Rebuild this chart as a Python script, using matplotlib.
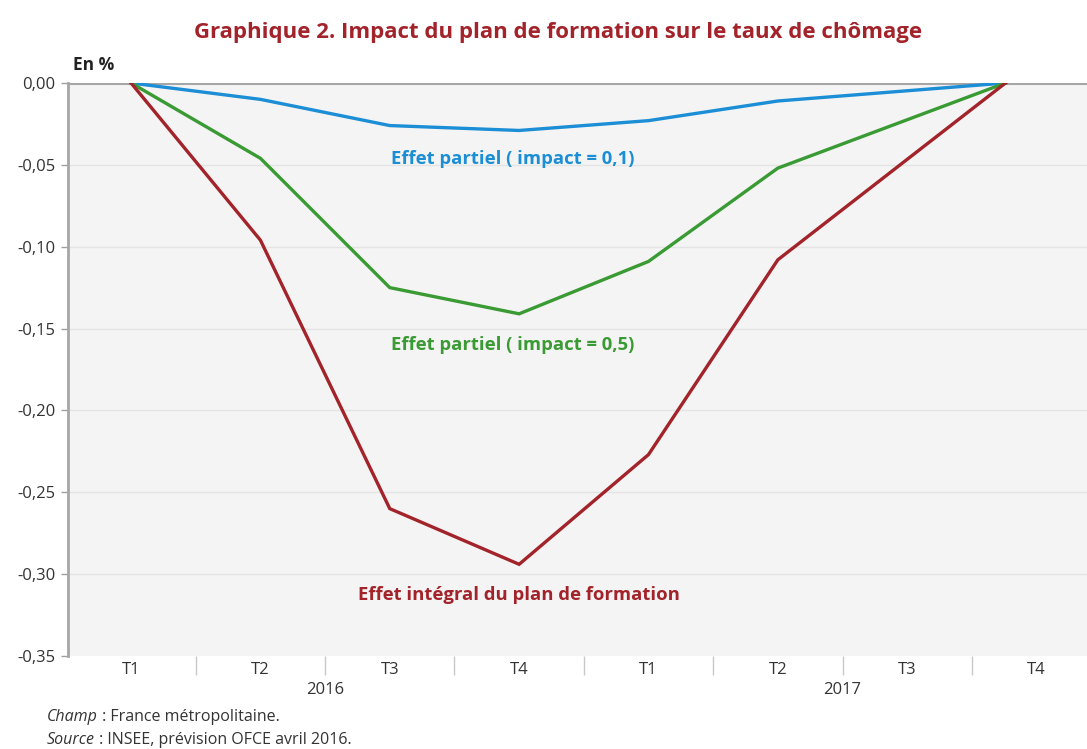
import matplotlib
matplotlib.use("Agg")
import matplotlib.pyplot as plt
import matplotlib.transforms as mtransforms

plt.rcParams["font.family"] = ["Open Sans", "DejaVu Sans"]
plt.rcParams["font.size"] = 12

# data
quarters = ["T1", "T2", "T3", "T4", "T1", "T2", "T3", "T4"]
years = ["2016", "2016", "2016", "2016", "2017", "2017", "2017", "2017"]
points_x = [0, 1, 2, 3, 4, 5, 6.76]
partiel_01 = [0.0, -0.010, -0.026, -0.029, -0.023, -0.011, 0.0]
partiel_05 = [0.0, -0.046, -0.125, -0.141, -0.109, -0.052, 0.0]
integral = [0.0, -0.096, -0.260, -0.294, -0.227, -0.108, 0.0]
yticks = [0.0, -0.05, -0.10, -0.15, -0.20, -0.25, -0.30, -0.35]

BLUE = "#1c8ed6"
GREEN = "#3a9a33"
RED = "#a3232a"
GREY_TXT = "#333333"

fig = plt.figure(figsize=(10.87, 7.49), dpi=100)
ax = fig.add_axes([0.0626, 0.1242, 0.9374, 0.765])
ax.set_facecolor("#f4f4f4")

ax.plot(points_x, partiel_01, color=BLUE, lw=2.4, solid_joinstyle="miter", zorder=3)
ax.plot(points_x, partiel_05, color=GREEN, lw=2.4, solid_joinstyle="miter", zorder=3)
ax.plot(points_x, integral, color=RED, lw=2.4, solid_joinstyle="miter", zorder=3)

ax.set_xlim(-0.487, 7.39)
ax.set_ylim(-0.35, 0.0)

# y axis
ax.set_yticks(yticks)
ax.set_yticklabels([f"{v:.2f}".replace(".", ",") for v in yticks])
ax.tick_params(axis="y", length=5, width=1, color="#a0a0a0", labelcolor=GREY_TXT,
               labelsize=12, pad=4)
for v in yticks[1:-1]:
    ax.axhline(v, color="#e4e4e4", lw=1, zorder=1)
ax.axhline(0, color="#a6a6a6", lw=2.2, zorder=2)

for s in ["top", "right", "bottom"]:
    ax.spines[s].set_visible(False)
ax.spines["left"].set_color("#a6a6a6")
ax.spines["left"].set_linewidth(2)

# x axis: quarter labels, separators between quarters
n = len(quarters)
ax.set_xticks(range(n))
ax.set_xticklabels(quarters)
ax.set_xticks([i + 0.5 for i in range(n - 1)], minor=True)
ax.tick_params(axis="x", which="major", length=0, pad=4, labelcolor=GREY_TXT, labelsize=12)
ax.tick_params(axis="x", which="minor", length=14, width=1, color="#c8c8c8", direction="out")

trans = mtransforms.blended_transform_factory(ax.transData, ax.transAxes)
for yr in sorted(set(years)):
    idx = [i for i, y in enumerate(years) if y == yr]
    ax.text(sum(idx) / len(idx), -0.06, yr, transform=trans, ha="center", va="center",
            fontsize=12, color=GREY_TXT)

# series labels
ax.text(2.95, -0.0465, "Effet partiel ( impact = 0,1)", color=BLUE, ha="center",
        va="center", fontsize=13.3, fontweight="bold")
ax.text(2.95, -0.160, "Effet partiel ( impact = 0,5)", color=GREEN, ha="center",
        va="center", fontsize=13.3, fontweight="bold")
ax.text(3.0, -0.313, "Effet intégral du plan de formation", color=RED, ha="center",
        va="center", fontsize=13.3, fontweight="bold")

fig.text(0.0672, 0.913, "En %", fontsize=12.5, fontweight="bold", color="#222222",
         ha="left", va="center")
fig.text(0.513, 0.957, "Graphique 2. Impact du plan de formation sur le taux de chômage",
         fontsize=16, fontweight="bold", color=RED, ha="center", va="center")

# footnotes: italic lead word followed by normal text
renderer = fig.canvas.get_renderer()
for y, lead, rest in [(0.043, "Champ", " : France métropolitaine."),
                      (0.012, "Source", " : INSEE, prévision OFCE avril 2016.")]:
    t = fig.text(0.043, y, lead, fontsize=11.5, style="italic", color=GREY_TXT,
                 va="center")
    w = t.get_window_extent(renderer).width
    fig.text(0.043, y, rest, fontsize=11.5, color=GREY_TXT, va="center",
             transform=fig.transFigure + mtransforms.Affine2D().translate(w, 0))

fig.savefig("out.png", dpi=100)
